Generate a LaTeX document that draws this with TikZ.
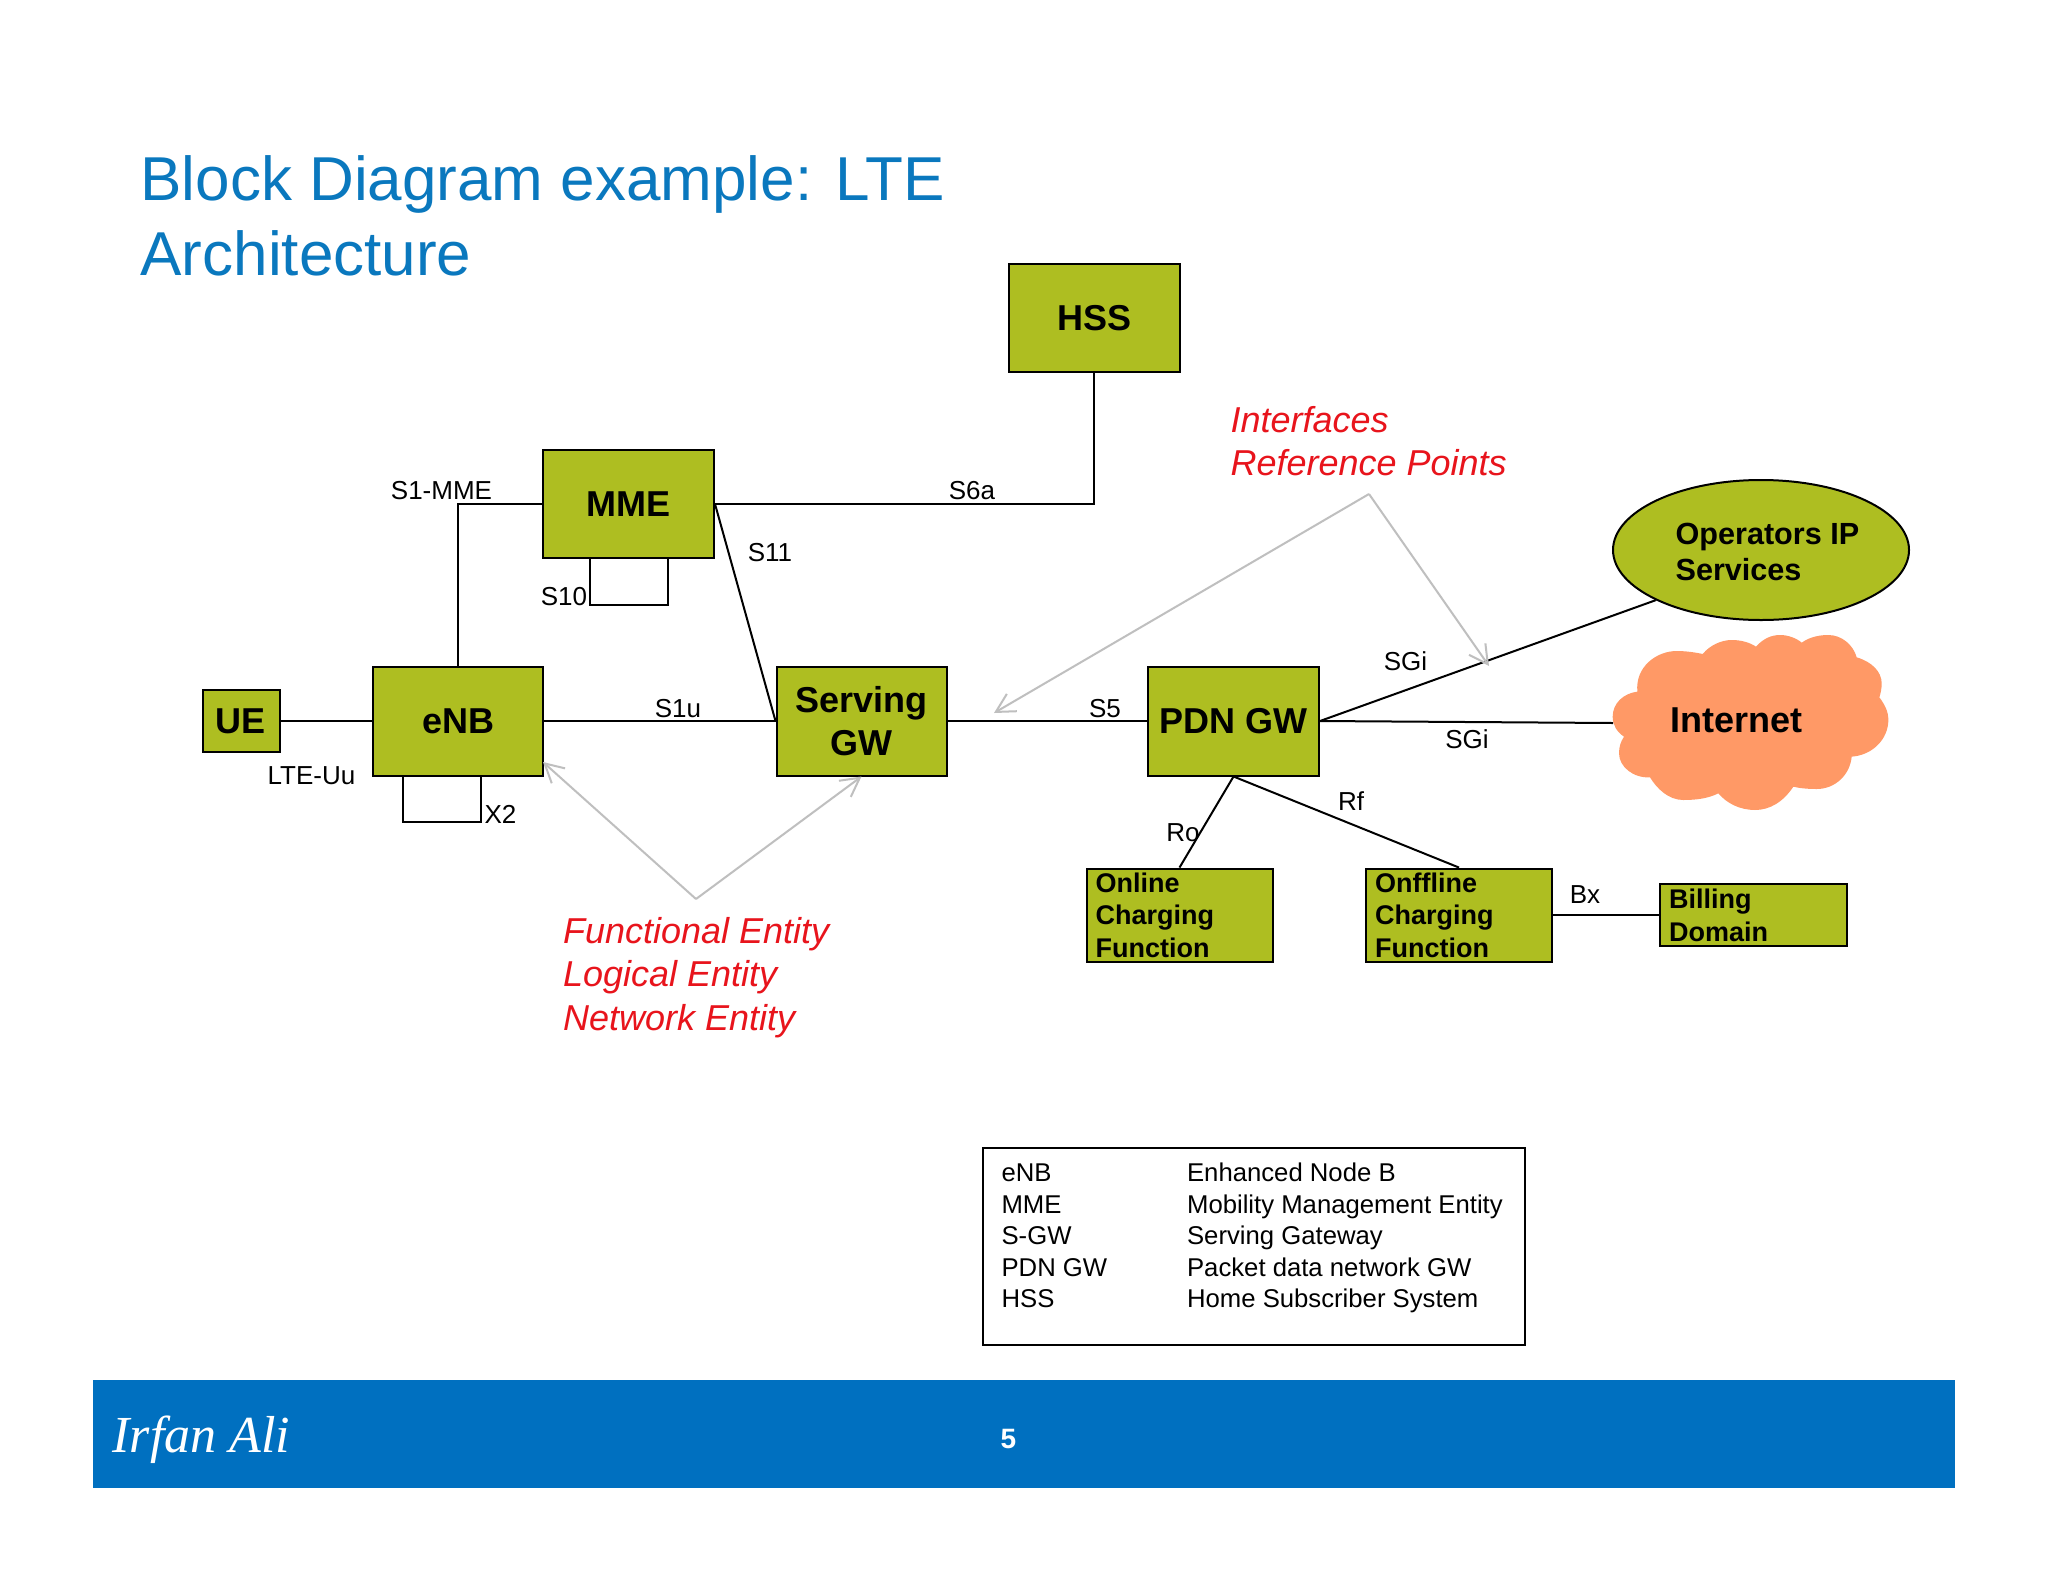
\documentclass[tikz,border=0pt]{standalone}
\usepackage{fontspec}
\setmainfont{Liberation Sans}
\newfontfamily\irfanfont{Liberation Serif}
\usetikzlibrary{arrows.meta,shapes.geometric}
\definecolor{boxgreen}{HTML}{AEBE21}
\definecolor{cloudorange}{HTML}{FF9966}
\definecolor{titleblue}{HTML}{0A78BE}
\definecolor{bandblue}{HTML}{0070C0}
\definecolor{notered}{HTML}{E8141C}
\definecolor{notegray}{HTML}{BFBFBF}
% sizes are in pixels of the 2048x1582 page
\def\pxu{.35pt}
\newcommand{\pxfont}[2]{\fontsize{\fpeval{#1*.35}pt}{\fpeval{#2*.35}pt}\selectfont}
\tikzset{
  conn/.style={draw=black, line width=.7pt},
  note/.style={draw=notegray, line width=.7pt, -{Straight Barb[length=6.5pt,width=7pt,line width=.7pt]}},
  block/.style 2 args={draw=black, fill=boxgreen, line width=.7pt, inner sep=0pt, align=center,
    minimum width=#1*\pxu, minimum height=#2*\pxu, font=\pxfont{36}{43}\bfseries},
  sblock/.style 2 args={draw=black, fill=boxgreen, line width=.7pt, inner xsep=9*\pxu, inner ysep=0pt, align=left,
    text width=#1*\pxu-18*\pxu, minimum height=#2*\pxu, font=\pxfont{27}{32.5}\bfseries},
  lab/.style={inner sep=0pt, font=\pxfont{26}{31}},
  rednote/.style={inner sep=0pt, anchor=west, align=left, text=notered, font=\pxfont{36}{43.5}\itshape},
}
\begin{document}
\begin{tikzpicture}[x=.35pt, y=-.35pt]
  \useasboundingbox[fill=white] (0,0) rectangle (2048,1582);

  % title and footer band
  \node[inner sep=0pt, anchor=west, align=left, text=titleblue, font=\pxfont{62}{74.5}] (title) at (140,216)
    {Block Diagram example: LTE\\Architecture};
  \node[fill=bandblue, inner sep=0pt, minimum width=1862*\pxu, minimum height=108*\pxu] (band) at (1024,1434) {};
  \node[inner sep=0pt, anchor=west, text=white, font=\pxfont{52}{52}\irfanfont\itshape] (author) at (112,1439.5) {Irfan Ali};
  \node[inner sep=0pt, text=white, font=\pxfont{28}{28}\bfseries] (page) at (1008.5,1439) {5};

  % cloud outline, in the coordinates of a 3x crop
  \begin{scope}[shift={(1550,450)}, x=.35pt/3, y=-.35pt/3]
    \fill[cloudorange] (262,725)
      .. controls (255,650) and (320,603) .. (380,603) .. controls (410,603) and (440,608) .. (458,612)
      .. controls (480,585) and (515,570) .. (545,570) .. controls (575,570) and (600,578) .. (618,590)
      .. controls (640,565) and (665,555) .. (690,555) .. controls (715,555) and (740,565) .. (755,578)
      .. controls (780,560) and (810,555) .. (835,555) .. controls (875,555) and (910,585) .. (920,622)
      .. controls (965,635) and (995,665) .. (995,700) .. controls (995,715) and (992,730) .. (988,742)
      .. controls (1005,765) and (1015,785) .. (1015,810) .. controls (1015,865) and (970,915) .. (905,920)
      .. controls (900,975) and (855,1017) .. (800,1017) .. controls (775,1017) and (750,1015) .. (730,1010)
      .. controls (700,1055) and (660,1080) .. (615,1080) .. controls (570,1080) and (530,1060) .. (505,1030)
      .. controls (475,1045) and (440,1050) .. (400,1050) .. controls (355,1050) and (320,1015) .. (300,982)
      .. controls (250,985) and (207,950) .. (207,910) .. controls (207,890) and (212,875) .. (222,860)
      .. controls (200,845) and (188,825) .. (188,800) .. controls (188,760) and (220,730) .. (262,725) -- cycle;
  \end{scope}
  \coordinate (cloudw) at (1613,723);
  \node[inner sep=0pt, font=\pxfont{36}{43}\bfseries] (inet) at (1736,720) {Internet};

  % blocks
  \node[block={77}{62}]   (ue)   at (241,721) {UE};
  \node[block={170}{109}] (enb)  at (458,721) {eNB};
  \node[block={171}{108}] (mme)  at (628.5,504) {MME};
  \node[block={170}{109}] (sgw)  at (861.5,721) {Serving\\GW};
  \node[block={171}{109}] (pdn)  at (1233.5,721) {PDN GW};
  \node[block={171}{108}] (hss)  at (1094,318) {HSS};
  \node[sblock={186}{93.5}] (ocf)  at (1179.5,915.3) {Online\\Charging\\Function};
  \node[sblock={186}{93.5}] (ofcf) at (1459,915.3) {Onffline\\Charging\\Function};
  \node[sblock={187}{62}] (bill) at (1753.5,915.3) {Billing\\Domain};
  \node[draw=black, fill=boxgreen, line width=.7pt, ellipse, inner sep=0pt,
    minimum width=296*\pxu, minimum height=140*\pxu] (ops) at (1761,550) {};
  \node[inner sep=0pt, anchor=west, align=left, font=\pxfont{30.6}{36.5}\bfseries] (opstext) at (1675,552)
    {Operators IP\\Services};

  % connectors
  \draw[conn] (ue.east) -- (enb.west);
  \draw[conn] (enb.north) |- (mme.west);
  \draw[conn] (enb.east) -- (sgw.west);
  \draw[conn] (mme.east) -| (hss.south);
  \draw[conn] (mme.east) -- (sgw.west);
  \draw[conn] (sgw.east) -- (pdn.west);
  \draw[conn] (pdn.east) -- (ops.south west);
  \draw[conn] (pdn.east) -- (cloudw);
  \draw[conn] (pdn.south) -- (ocf.north);
  \draw[conn] (pdn.south) -- (ofcf.north);
  \draw[conn] (ofcf.east) -- (bill.west);

  % loops under MME and eNB
  \coordinate (m1) at (590,559);
  \coordinate (m2) at (590,605);
  \coordinate (m3) at (668,605);
  \coordinate (m4) at (668,559);
  \draw[conn] (m1) -- (m2) -- (m3) -- (m4);
  \coordinate (e1) at (403,776);
  \coordinate (e2) at (403,822);
  \coordinate (e3) at (481,822);
  \coordinate (e4) at (481,776);
  \draw[conn] (e1) -- (e2) -- (e3) -- (e4);

  % interface labels
  \node[lab] (ls1mme) at (441.5,491) {S1-MME};
  \node[lab] (ls6a)   at (972,491) {S6a};
  \node[lab] (ls11)   at (770,553) {S11};
  \node[lab] (ls10)   at (564,597) {S10};
  \node[lab] (ls1u)   at (678,708.5) {S1u};
  \node[lab] (luu)    at (311.5,775.5) {LTE-Uu};
  \node[lab] (lx2)    at (500.5,814) {X2};
  \node[lab] (ls5)    at (1105,708.5) {S5};
  \node[lab] (lsgi)   at (1405.5,661.5) {SGi};
  \node[lab] (lsgib)  at (1467,739.5) {SGi};
  \node[lab] (lrf)    at (1351,801) {Rf};
  \node[lab] (lro)    at (1183,833) {Ro};
  \node[lab] (lbx)    at (1585,895) {Bx};

  % red notes and their grey arrows
  \node[rednote] (nif) at (1230,441) {Interfaces\\Reference Points};
  \node[rednote] (nfe) at (562.5,977.5) {Functional Entity\\Logical Entity\\Network Entity};
  \coordinate (ifa) at (1369,494);
  \coordinate (ifl) at (994,713);
  \coordinate (ifr) at (1489,666);
  \coordinate (fea) at (696,899);
  \coordinate (fel) at (543,762);
  \draw[note] (ifa) -- (ifl);
  \draw[note] (ifa) -- (ifr);
  \draw[note] (fea) -- (fel);
  \draw[note] (fea) -- (sgw.south);

  % legend
  \node[draw=black, line width=.7pt, minimum width=542*\pxu, minimum height=197*\pxu, inner sep=0pt] (legend) at (1253.5,1246.7) {};
  \node[inner sep=0pt, anchor=west, align=left, font=\pxfont{25.7}{31.4}] (legk) at (1001,1236)
    {eNB\\MME\\S-GW\\PDN GW\\HSS};
  \node[inner sep=0pt, anchor=west, align=left, font=\pxfont{25.7}{31.4}] (legv) at (1186.5,1238)
    {Enhanced Node B\\Mobility Management Entity\\Serving Gateway\\Packet data network GW\\Home Subscriber System};
\end{tikzpicture}
\end{document}
